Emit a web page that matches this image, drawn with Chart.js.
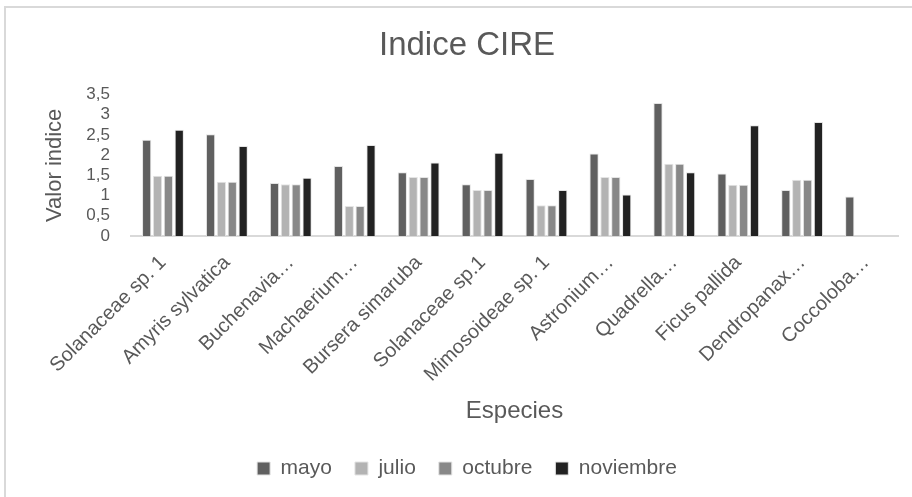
<!DOCTYPE html>
<html lang="es">
<head>
    <meta charset="UTF-8">
    <title>Indice CIRE</title>
    <script src="https://cdn.jsdelivr.net/npm/chart.js"></script>
    <style>
        html, body { margin: 0; padding: 0; background: #fff; overflow: hidden; width: 912px; height: 497px; }
        .frame { position: absolute; left: 4px; top: 6px; width: 926px; height: 495px; border: 2px solid #d9d9d9; }
        .box { position: relative; width: 926px; height: 489px; }
    </style>
</head>
<body>
    <div class="frame">
        <div class="box"><canvas id="cireChart"></canvas></div>
    </div>

    <script>
        const especies = ['Solanaceae sp. 1', 'Amyris sylvatica', 'Buchenavia\u2026', 'Machaerium\u2026',
            'Bursera simaruba', 'Solanaceae sp.1', 'Mimosoideae sp. 1', 'Astronium\u2026',
            'Quadrella\u2026', 'Ficus pallida', 'Dendropanax\u2026', 'Coccoloba\u2026'];
        const mayo      = [2.38, 2.52, 1.31, 1.73, 1.58, 1.28, 1.41, 2.04, 3.29, 1.55, 1.14, 0.98];
        const julio     = [1.49, 1.34, 1.28, 0.74, 1.46, 1.14, 0.76, 1.46, 1.79, 1.27, 1.39, null];
        const octubre   = [1.49, 1.34, 1.28, 0.74, 1.46, 1.14, 0.76, 1.46, 1.79, 1.27, 1.39, null];
        const noviembre = [2.63, 2.23, 1.44, 2.25, 1.82, 2.06, 1.14, 1.03, 1.58, 2.74, 2.82, null];

        const txt = '#595959';
        const fam = "'Liberation Sans', Arial, sans-serif";

        function serie(label, data, color) {
            return { label: label, data: data, backgroundColor: color, borderColor: '#e4e4e4', borderWidth: 1 };
        }

        new Chart(document.getElementById('cireChart'), {
            type: 'bar',
            data: {
                labels: especies,
                datasets: [
                    serie('mayo', mayo, '#606060'),
                    serie('julio', julio, '#b3b3b3'),
                    serie('octubre', octubre, '#888888'),
                    serie('noviembre', noviembre, '#222222')
                ]
            },
            options: {
                responsive: true,
                maintainAspectRatio: false,
                animation: false,
                categoryPercentage: 0.68,
                barPercentage: 0.85,
                layout: { padding: { left: 30, right: 34, top: 0, bottom: 8 } },
                plugins: {
                    title: {
                        display: true,
                        text: 'Indice CIRE',
                        color: txt,
                        font: { family: fam, size: 33, weight: 'normal' },
                        padding: { top: 18, bottom: 29 }
                    },
                    legend: {
                        position: 'bottom',
                        labels: {
                            color: txt,
                            boxWidth: 13,
                            boxHeight: 13,
                            padding: 23,
                            font: { family: fam, size: 21 }
                        }
                    },
                    tooltip: { enabled: false }
                },
                scales: {
                    x: {
                        grid: { display: false, drawTicks: false },
                        border: { display: true, color: '#d9d9d9', width: 2 },
                        ticks: {
                            color: txt,
                            autoSkip: false,
                            minRotation: 45,
                            maxRotation: 45,
                            padding: 15,
                            font: { family: fam, size: 20 }
                        },
                        title: {
                            display: true,
                            text: 'Especies',
                            color: txt,
                            font: { family: fam, size: 24 },
                            padding: { top: 0, bottom: 9 }
                        },
                        afterFit: function (axis) { axis.height = 199; }
                    },
                    y: {
                        min: 0,
                        max: 3.5,
                        grid: { display: false, drawTicks: false },
                        border: { display: false },
                        ticks: {
                            stepSize: 0.5,
                            autoSkip: false,
                            color: txt,
                            padding: 21,
                            font: { family: fam, size: 17 },
                            callback: function (v) { return String(v).replace('.', ','); }
                        },
                        title: {
                            display: true,
                            text: 'Valor indice',
                            color: txt,
                            font: { family: fam, size: 22 },
                            padding: { top: 6, bottom: 0 }
                        },
                        afterFit: function (axis) { axis.width = 95; }
                    }
                }
            }
        });
    </script>
</body>
</html>
